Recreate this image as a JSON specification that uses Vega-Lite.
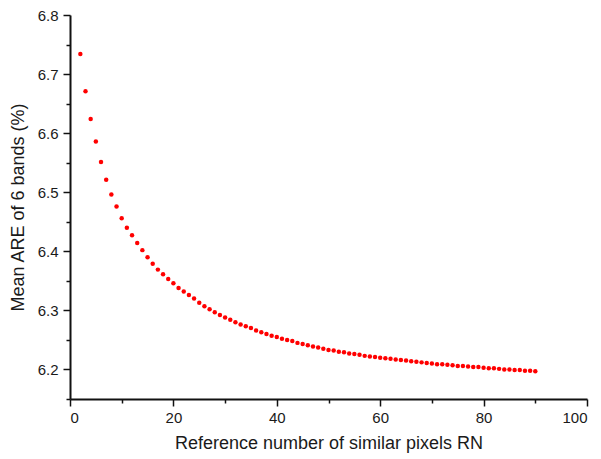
{
  "$schema": "https://vega.github.io/schema/vega-lite/v6.json",
  "width": 517,
  "height": 384,
  "autosize": {"type": "none"},
  "padding": {"left": 70, "top": 15, "right": 14, "bottom": 60},
  "background": "white",
  "config": {
    "view": {"stroke": null},
    "font": "Liberation Sans",
    "axis": {
      "domainColor": "#111",
      "domainWidth": 2,
      "tickColor": "#111",
      "tickWidth": 1.5,
      "labelColor": "#1a1a1a",
      "labelFont": "Liberation Sans",
      "labelFontSize": 15,
      "titleFont": "Liberation Sans",
      "titleFontSize": 18,
      "titleFontWeight": "normal",
      "titleColor": "#1a1a1a",
      "grid": false
    }
  },
  "data": {
    "values": [
      {"rn": 2, "are": 6.734}, {"rn": 3, "are": 6.671}, {"rn": 4, "are": 6.624},
      {"rn": 5, "are": 6.586}, {"rn": 6, "are": 6.551}, {"rn": 7, "are": 6.521},
      {"rn": 8, "are": 6.496}, {"rn": 9, "are": 6.476}, {"rn": 10, "are": 6.456},
      {"rn": 11, "are": 6.440}, {"rn": 12, "are": 6.427}, {"rn": 13, "are": 6.414},
      {"rn": 14, "are": 6.402}, {"rn": 15, "are": 6.390}, {"rn": 16, "are": 6.379},
      {"rn": 17, "are": 6.369}, {"rn": 18, "are": 6.361}, {"rn": 19, "are": 6.353},
      {"rn": 20, "are": 6.346}, {"rn": 21, "are": 6.338}, {"rn": 22, "are": 6.332},
      {"rn": 23, "are": 6.326}, {"rn": 24, "are": 6.320}, {"rn": 25, "are": 6.313},
      {"rn": 26, "are": 6.307}, {"rn": 27, "are": 6.302}, {"rn": 28, "are": 6.297},
      {"rn": 29, "are": 6.292}, {"rn": 30, "are": 6.288}, {"rn": 31, "are": 6.284},
      {"rn": 32, "are": 6.280}, {"rn": 33, "are": 6.276}, {"rn": 34, "are": 6.273},
      {"rn": 35, "are": 6.270}, {"rn": 36, "are": 6.266}, {"rn": 37, "are": 6.263},
      {"rn": 38, "are": 6.260}, {"rn": 39, "are": 6.257}, {"rn": 40, "are": 6.255},
      {"rn": 41, "are": 6.252}, {"rn": 42, "are": 6.250}, {"rn": 43, "are": 6.248},
      {"rn": 44, "are": 6.245}, {"rn": 45, "are": 6.243}, {"rn": 46, "are": 6.241},
      {"rn": 47, "are": 6.239}, {"rn": 48, "are": 6.237}, {"rn": 49, "are": 6.235},
      {"rn": 50, "are": 6.233}, {"rn": 51, "are": 6.232}, {"rn": 52, "are": 6.230},
      {"rn": 53, "are": 6.229}, {"rn": 54, "are": 6.227}, {"rn": 55, "are": 6.226},
      {"rn": 56, "are": 6.225}, {"rn": 57, "are": 6.223}, {"rn": 58, "are": 6.222},
      {"rn": 59, "are": 6.221}, {"rn": 60, "are": 6.220}, {"rn": 61, "are": 6.219},
      {"rn": 62, "are": 6.218}, {"rn": 63, "are": 6.217}, {"rn": 64, "are": 6.216},
      {"rn": 65, "are": 6.215}, {"rn": 66, "are": 6.214}, {"rn": 67, "are": 6.213},
      {"rn": 68, "are": 6.212}, {"rn": 69, "are": 6.211}, {"rn": 70, "are": 6.210},
      {"rn": 71, "are": 6.209}, {"rn": 72, "are": 6.209}, {"rn": 73, "are": 6.208},
      {"rn": 74, "are": 6.207}, {"rn": 75, "are": 6.206}, {"rn": 76, "are": 6.206},
      {"rn": 77, "are": 6.205}, {"rn": 78, "are": 6.204}, {"rn": 79, "are": 6.204},
      {"rn": 80, "are": 6.203}, {"rn": 81, "are": 6.202}, {"rn": 82, "are": 6.202},
      {"rn": 83, "are": 6.201}, {"rn": 84, "are": 6.200}, {"rn": 85, "are": 6.200},
      {"rn": 86, "are": 6.199}, {"rn": 87, "are": 6.199}, {"rn": 88, "are": 6.198},
      {"rn": 89, "are": 6.198}, {"rn": 90, "are": 6.197}
    ]
  },
  "mark": {"type": "circle", "color": "#ff0000", "opacity": 1, "size": 20},
  "encoding": {
    "x": {
      "field": "rn",
      "type": "quantitative",
      "scale": {"domain": [0, 100], "nice": false},
      "axis": {
        "title": "Reference number of similar pixels RN",
        "values": [0, 10, 20, 30, 40, 50, 60, 70, 80, 90, 100],
        "labelExpr": "datum.value % 20 === 0 ? datum.label : ''",
        "tickSize": {"condition": {"test": "datum.value % 20 === 0", "value": 7}, "value": 4},
        "labelPadding": 4,
        "titlePadding": 9
      }
    },
    "y": {
      "field": "are",
      "type": "quantitative",
      "scale": {"domain": [6.15, 6.8], "nice": false, "zero": false},
      "axis": {
        "title": "Mean ARE of 6 bands (%)",
        "values": [6.15, 6.2, 6.25, 6.3, 6.35, 6.4, 6.45, 6.5, 6.55, 6.6, 6.65, 6.7, 6.75, 6.8],
        "format": ".1f",
        "labelExpr": "abs(datum.value * 10 - round(datum.value * 10)) < 0.001 ? datum.label : ''",
        "tickSize": {"condition": {"test": "abs(datum.value * 10 - round(datum.value * 10)) < 0.001", "value": 7}, "value": 4},
        "labelPadding": 5,
        "titlePadding": 10
      }
    }
  }
}
